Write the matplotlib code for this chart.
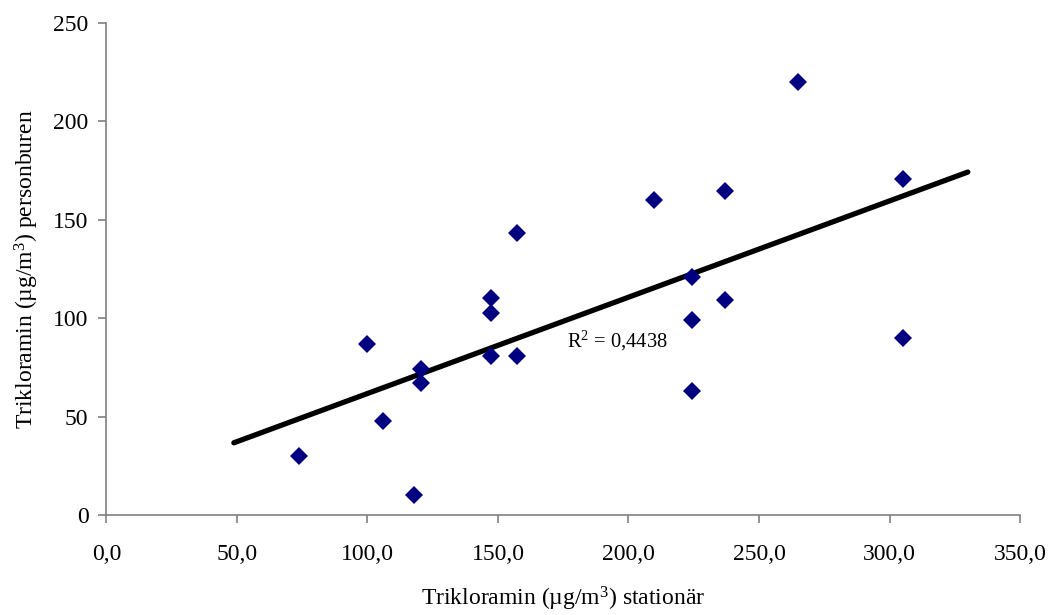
import numpy as np
import matplotlib
matplotlib.use("Agg")
import matplotlib.pyplot as plt
from matplotlib.ticker import FuncFormatter

plt.rcParams['font.family'] = ['Liberation Serif', 'DejaVu Serif']
plt.rcParams['mathtext.fontset'] = 'custom'
plt.rcParams['mathtext.rm'] = 'Liberation Serif'
plt.rcParams['mathtext.it'] = 'Liberation Serif:italic'

# stationary vs personal-borne measurements
stationar = [73.8, 99.8, 105.9, 117.8, 120.5, 120.5, 147.3, 147.3, 147.3,
             157.3, 157.3, 209.8, 224.4, 224.4, 224.4, 237.0, 237.0,
             265.0, 305.0, 305.0]
personburen = [30.0, 87.0, 48.0, 10.0, 74.0, 67.0, 110.0, 102.5, 81.0,
               143.0, 81.0, 160.0, 121.0, 99.0, 63.0, 164.5, 109.0,
               220.0, 170.5, 90.0]
r2_label = "R$^2$ = 0,4438"
forecast = 25.0

x = np.array(stationar)
y = np.array(personburen)
k, m = np.polyfit(x, y, 1)
xl = np.array([x.min() - forecast, x.max() + forecast])

fig = plt.figure(figsize=(10.52, 6.15), dpi=100)
ax = fig.add_axes([0.1012, 0.1623, 0.8684, 0.8008])

ax.plot(xl, k * xl + m, color='black', lw=3.8, solid_capstyle='round', zorder=2)
ax.plot(x, y, linestyle='none', marker='D', markersize=9,
        markerfacecolor='#000080', markeredgewidth=0, zorder=3)

ax.text(176.5, 88.5, r2_label, fontsize=14.8, va='center', ha='left')

ax.set_xlim(0, 350)
ax.set_ylim(0, 250)
ax.set_xticks(np.arange(0, 351, 50))
ax.set_yticks(np.arange(0, 251, 50))
ax.xaxis.set_major_formatter(FuncFormatter(lambda v, p: f"{v:.1f}".replace('.', ',')))
ax.yaxis.set_major_formatter(FuncFormatter(lambda v, p: f"{v:.0f}"))

for s in ['top', 'right']:
    ax.spines[s].set_visible(False)
for s in ['left', 'bottom']:
    ax.spines[s].set_color('#808080')
    ax.spines[s].set_linewidth(1.2)
ax.tick_params(axis='both', direction='out', length=6, width=1.2,
               color='#808080', labelsize=17)
ax.tick_params(axis='x', pad=15)
ax.tick_params(axis='y', pad=7)

ax.set_xlabel("Trikloramin (µg/m$^3$) stationär", fontsize=17, labelpad=14)
ax.set_ylabel("Trikloramin (µg/m$^3$) personburen", fontsize=17, labelpad=9)

fig.savefig("out.png", dpi=100)
